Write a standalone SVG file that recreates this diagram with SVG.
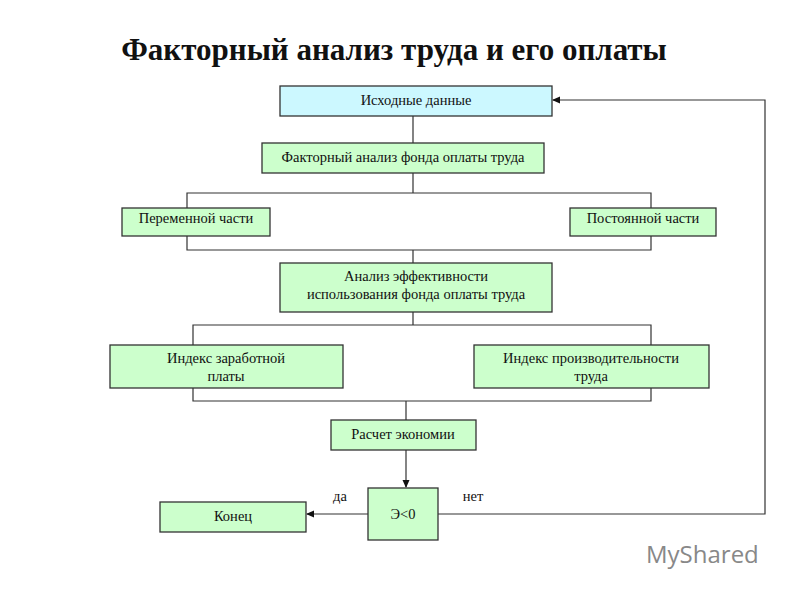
<svg xmlns="http://www.w3.org/2000/svg" width="800" height="600" viewBox="0 0 800 600">
<style>
.n{fill:#ccffcc;stroke:#333;stroke-width:1.3}
.b{fill:#ccf8ff;stroke:#333;stroke-width:1.3}
.t{font-family:Liberation Serif,Times New Roman,serif;font-size:14.5px;fill:#111;text-anchor:middle}
.c{fill:none;stroke:#333;stroke-width:1.2}
</style>
<defs><marker id="a" markerWidth="8" markerHeight="8" refX="7" refY="4" orient="auto" markerUnits="userSpaceOnUse"><path d="M0,0.5 L8,4 L0,7.5z" fill="#111"/></marker></defs>
<rect width="800" height="600" fill="#fff"/>
<text x="394" y="60" font-family="Liberation Serif,serif" font-size="31" font-weight="bold" text-anchor="middle" fill="#111">Факторный анализ труда и его оплаты</text>
<g id="connectors" class="c">
<path d="M413 116V143M413 173V193M187 208V193H651V208M187 236V250H651V236M413 250V263M413 312V325M193 345V325H651V345M193 388V401H651V388M406 401V420"/>
<path d="M406 450V487" marker-end="url(#a)"/>
<path d="M368 514H307" marker-end="url(#a)"/>
<path d="M438 514H765V100H553" marker-end="url(#a)"/>
</g>
<g id="n1"><rect class="b" x="280" y="86" width="272" height="30"/><text class="t" x="416" y="105">Исходные данные</text></g>
<g id="n2"><rect class="n" x="262" y="143" width="282" height="30"/><text class="t" x="403" y="162">Факторный анализ фонда оплаты труда</text></g>
<g id="n3"><rect class="n" x="122" y="208" width="148" height="28"/><text class="t" x="196" y="223">Переменной части</text></g>
<g id="n4"><rect class="n" x="570" y="208" width="146" height="28"/><text class="t" x="643" y="223">Постоянной части</text></g>
<g id="n5"><rect class="n" x="280" y="263" width="272" height="49"/><text class="t" x="416" y="281">Анализ эффективности</text><text class="t" x="416" y="299">использования фонда оплаты труда</text></g>
<g id="n6"><rect class="n" x="110" y="345" width="233" height="43"/><text class="t" x="226" y="363">Индекс заработной</text><text class="t" x="226" y="381">платы</text></g>
<g id="n7"><rect class="n" x="474" y="345" width="235" height="43"/><text class="t" x="591" y="363">Индекс производительности</text><text class="t" x="591" y="381">труда</text></g>
<g id="n8"><rect class="n" x="331" y="420" width="145" height="30"/><text class="t" x="403" y="439">Расчет экономии</text></g>
<g id="n9"><rect class="n" x="368" y="488" width="70" height="52"/><text class="t" x="403" y="519" font-size="12">Э&lt;0</text></g>
<g id="n10"><rect class="n" x="160" y="502" width="146" height="30"/><text class="t" x="233" y="521">Конец</text></g>
<text class="t" x="340" y="501">да</text>
<text class="t" x="473" y="501">нет</text>
<text x="646" y="563" font-family="Open Sans,sans-serif" font-size="24" fill="#888">MyShared</text>
</svg>
